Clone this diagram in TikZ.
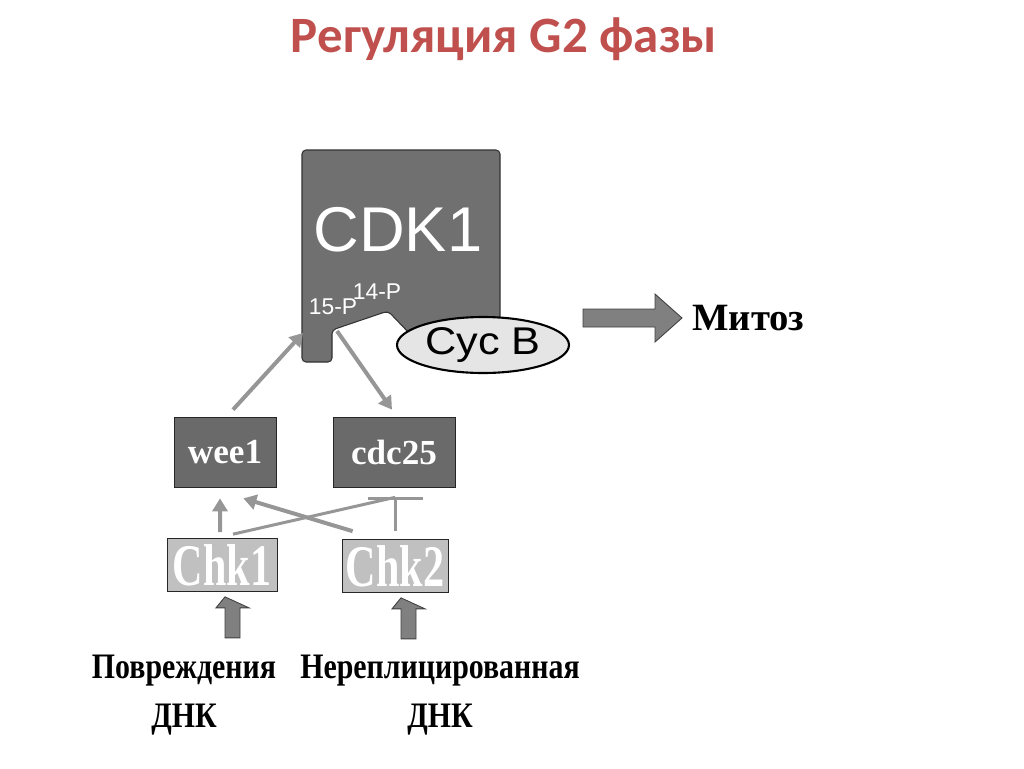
\documentclass[tikz,border=0pt]{standalone}
\usepackage{fontspec}
\setmainfont{Liberation Serif}
\setsansfont{Liberation Sans}
\newfontfamily\titlefont{Carlito}
\usetikzlibrary{arrows.meta,shapes.geometric}

\definecolor{titlered}{RGB}{192,80,77}
\definecolor{cdkgray}{RGB}{112,112,112}
\definecolor{boxgray}{RGB}{106,106,106}
\definecolor{chkgray}{RGB}{192,192,192}
\definecolor{linkgray}{RGB}{150,150,150}
\definecolor{blockgray}{RGB}{128,128,128}

\newcommand{\tallish}[1]{\scalebox{1}[1.2]{#1}}

\begin{document}
\begin{tikzpicture}[x=0.02cm,y=-0.02cm,
  enzbox/.style={draw=black!85,fill=boxgray,text=white,inner sep=0pt,minimum height=1.4cm,font=\bfseries\fontsize{20}{20}\selectfont},
  chkbox/.style={draw=black!85,fill=chkgray,text=white,inner sep=0pt,minimum height=1.06cm,font=\bfseries\fontsize{24}{24}\selectfont},
  act/.style={draw=linkgray,line width=0.08cm,-{Triangle[length=0.26cm,width=0.3cm]}},
  inh/.style={draw=linkgray,line width=0.06cm},
  blockarr/.style={draw=black!75,fill=blockgray,line width=0.5pt},
  site/.style={text=white,font=\sffamily\fontsize{13}{13}\selectfont,inner sep=0pt},
  damage/.style={align=center,inner sep=0pt,font=\bfseries\fontsize{17}{28}\selectfont}]
\useasboundingbox (0,0) rectangle (1024,768);

% title
\node[text=titlered,font=\titlefont\bfseries\fontsize{29}{29}\selectfont] (title) at (504,39) {Регуляция G2 фазы};

% CDK1 with its notch
\filldraw[draw=black!80,fill=cdkgray,line width=0.6pt,rounded corners=0.08cm]
  (302,150) -- (500,150) -- (500,334) -- (410,334) -- (388,311) -- (332,330) -- (332,362) -- (302,362) -- cycle;
\node[text=white,font=\sffamily\fontsize{36}{36}\selectfont] (cdk) at (398,230) {CDK1};
\node[site] (p14) at (377,292) {14-P};
\node[site] (p15) at (333,307) {15-P};
\coordinate (site15) at (303,333);
\coordinate (site14) at (337,331);
\node[ellipse,draw=black,line width=1.2pt,fill=black!10,minimum width=3.44cm,minimum height=1.12cm,inner sep=0pt,font=\sffamily\fontsize{22}{22}\selectfont] (cyc) at (483,345) {\scalebox{1.12}[1]{Cyc B}};

% mitosis
\node[anchor=west,inner sep=0pt,font=\bfseries\fontsize{22}{22}\selectfont] (mit) at (692,318) {Митоз};
\filldraw[blockarr] ([xshift=-0.2cm]mit.west) -- ++(-27,-24) -- ++(0,15) -- ++(-72,0) -- ++(0,18) -- ++(72,0) -- ++(0,15) -- cycle;

% kinases and phosphatase
\node[enzbox,minimum width=2.04cm] (wee) at (225,452) {wee1};
\node[enzbox,minimum width=2.44cm] (cdc) at (394,452) {cdc25};
\node[chkbox,minimum width=2.2cm] (chka) at (222,565) {\scalebox{1}[1.4]{Chk1}};
\node[chkbox,minimum width=2.12cm] (chkb) at (395,566) {\scalebox{1}[1.4]{Chk2}};
\coordinate (bar) at (chkb.north |- cdc.south);
\coordinate (bar) at ([yshift=-0.2cm]bar);

\draw[act] ([xshift=0.16cm,yshift=0.14cm]wee.north) -- (site15);
\draw[act] (site14) -- ([xshift=-0.04cm,yshift=0.14cm]cdc.north);
\draw[act] ([xshift=-0.04cm,yshift=0.12cm]chka.north) -- ([xshift=-0.1cm,yshift=-0.22cm]wee.south);
\draw[act] ([xshift=0.22cm,yshift=0.16cm]chkb.north west) -- ([xshift=-0.66cm,yshift=-0.22cm]wee.south east);
\draw[inh] ([xshift=0.22cm,yshift=0.08cm]chka.north) -- (bar);
\draw[inh,-{Bar[width=1.1cm]}] ([yshift=0.16cm]chkb.north) -- (bar);

% signals
\node[damage] (dna1) at (184,695) {\tallish{Повреждения}\\\tallish{ДНК}};
\node[damage] (dna2) at (440,695) {\tallish{Нереплицированная}\\\tallish{ДНК}};
\filldraw[blockarr] ([xshift=0.06cm,yshift=-0.1cm]chka.south) -- ++(24,11) -- ++(-9,0) -- ++(0,30) -- ++(-15,0) -- ++(0,-30) -- ++(-9,0) -- cycle;
\filldraw[blockarr] ([xshift=0.12cm,yshift=-0.1cm]chkb.south) -- ++(24,11) -- ++(-9,0) -- ++(0,30) -- ++(-15,0) -- ++(0,-30) -- ++(-9,0) -- cycle;
\end{tikzpicture}
\end{document}
